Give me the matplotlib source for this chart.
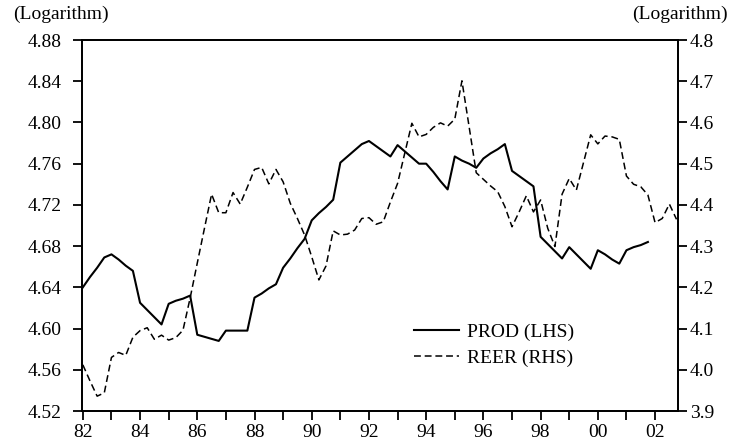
import numpy as np
import matplotlib
matplotlib.use("Agg")
import matplotlib.pyplot as plt
from matplotlib.ticker import FixedLocator, FixedFormatter

# quarterly observations, 1982Q1 onwards
prod = [4.640, 4.650, 4.659, 4.669,
        4.672, 4.667, 4.661, 4.656,
        4.625, 4.618, 4.611, 4.604,
        4.624, 4.627, 4.629, 4.632,
        4.594, 4.592, 4.590, 4.588,
        4.598, 4.598, 4.598, 4.598,
        4.630, 4.634, 4.639, 4.643,
        4.659, 4.668, 4.678, 4.687,
        4.705, 4.712, 4.718, 4.725,
        4.761, 4.767, 4.773, 4.779,
        4.782, 4.777, 4.772, 4.767,
        4.778, 4.772, 4.766, 4.760,
        4.760, 4.752, 4.743, 4.735,
        4.767, 4.763, 4.760, 4.756,
        4.765, 4.770, 4.774, 4.779,
        4.753, 4.748, 4.743, 4.738,
        4.689, 4.682, 4.675, 4.668,
        4.679, 4.672, 4.665, 4.658,
        4.676, 4.672, 4.667, 4.663,
        4.676, 4.679, 4.681, 4.684]

reer = [4.012, 3.973, 3.936, 3.944,
        4.030, 4.042, 4.035, 4.079,
        4.095, 4.102, 4.074, 4.084,
        4.072, 4.078, 4.096, 4.174,
        4.259, 4.343, 4.426, 4.381,
        4.381, 4.430, 4.402, 4.443,
        4.486, 4.491, 4.451, 4.486,
        4.456, 4.404, 4.367, 4.327,
        4.274, 4.218, 4.252, 4.337,
        4.327, 4.329, 4.339, 4.367,
        4.369, 4.353, 4.359, 4.407,
        4.452, 4.525, 4.598, 4.565,
        4.571, 4.588, 4.599, 4.591,
        4.608, 4.701, 4.590, 4.478,
        4.462, 4.446, 4.432, 4.396,
        4.347, 4.383, 4.422, 4.383,
        4.412, 4.343, 4.299, 4.426,
        4.464, 4.436, 4.503, 4.570,
        4.548, 4.567, 4.565, 4.559,
        4.470, 4.450, 4.444, 4.424,
        4.357, 4.367, 4.402, 4.365]

start_year = 1982
year_ticks = list(range(1982, 2003, 2))
year_labels = ['82', '84', '86', '88', '90', '92', '94', '96', '98', '00', '02']
left_ticks = [4.52, 4.56, 4.60, 4.64, 4.68, 4.72, 4.76, 4.80, 4.84, 4.88]
right_ticks = [3.9, 4.0, 4.1, 4.2, 4.3, 4.4, 4.5, 4.6, 4.7, 4.8]

t_prod = start_year + np.arange(len(prod)) / 4
t_reer = start_year + np.arange(len(reer)) / 4

plt.rcParams['font.family'] = ['Liberation Serif', 'DejaVu Serif']
plt.rcParams['font.size'] = 14

fig = plt.figure(figsize=(7.3, 4.45), dpi=100)
ax = fig.add_axes([0.1123, 0.0764, 0.8164, 0.8337])
ax2 = ax.twinx()

l1, = ax.plot(t_prod, prod, color='black', lw=1.5, label='PROD (LHS)')
l2, = ax2.plot(t_reer, reer, color='black', lw=1.1, dashes=(4.5, 2.5), label='REER (RHS)')

ax.set_xlim(1981.97, 2002.8)
ax.set_ylim(4.52, 4.88)
ax2.set_ylim(3.9, 4.8)

ax.xaxis.set_major_locator(FixedLocator(year_ticks))
ax.xaxis.set_major_formatter(FixedFormatter(year_labels))
ax.xaxis.set_minor_locator(FixedLocator(range(1983, 2003, 2)))
ax.set_yticks(left_ticks)
ax.set_yticklabels(['%.2f' % v for v in left_ticks])
ax2.set_yticks(right_ticks)
ax2.set_yticklabels(['%.1f' % v for v in right_ticks])

for a in (ax, ax2):
    for s in a.spines.values():
        s.set_linewidth(1.3)
ax.tick_params(axis='x', which='both', direction='out', length=6.5, width=1.3, pad=3)
ax.tick_params(axis='y', direction='out', length=6.5, width=1.3, pad=8)
ax2.tick_params(axis='y', direction='out', length=6.5, width=1.3, pad=2)

ax.legend([l1, l2], ['PROD (LHS)', 'REER (RHS)'], loc='upper left',
          bbox_to_anchor=(0.557, 0.236), frameon=False, borderpad=0,
          borderaxespad=0, handlelength=2.3, handletextpad=0.45,
          labelspacing=0.4, fontsize=14)

fig.text(0.018, 0.968, '(Logarithm)', ha='left', va='center', fontsize=14)
fig.text(0.997, 0.968, '(Logarithm)', ha='right', va='center', fontsize=14)

fig.savefig('out.png', dpi=100)
